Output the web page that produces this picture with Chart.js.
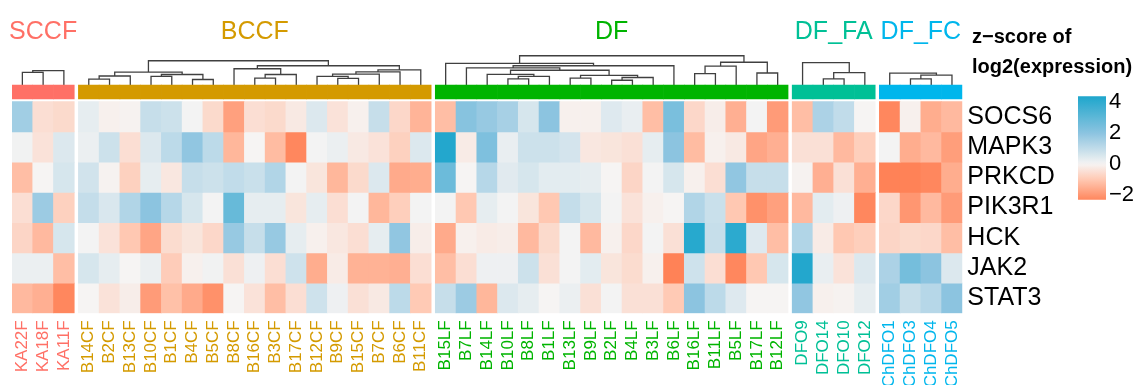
<!DOCTYPE html>
<html>
<head>
<meta charset="utf-8">
<script src="https://cdn.jsdelivr.net/npm/chart.js@4/dist/chart.umd.min.js"></script>
<style>
  body { margin: 0; background: #fff; }
  #wrap { position: relative; width: 1143px; height: 385px; }
  #heat { position: absolute; left: 0; top: 0; }
  #scale { position: absolute; left: 1040px; top: 80px; }
  #legTitle { position: absolute; left: 972px; top: 21px; font: bold 20px 'Liberation Sans', Arial, sans-serif; line-height: 30px; color: #000; white-space: nowrap; }
</style>
</head>
<body>
<div id="wrap">
  <canvas id="heat" width="1143" height="385"></canvas>
  <canvas id="scale" width="103" height="140"></canvas>
  <div id="legTitle">z−score of<br>log2(expression)</div>
</div>
<script>
'use strict';

// groups and samples (column order as in the heatmap)
var groups = ['SCCF', 'BCCF', 'DF', 'DF_FA', 'DF_FC'];
var groupColors = ['#FF7066', '#D49A00', '#00B400', '#00C096', '#00B6EC'];
var sccfCols = ['KA22F', 'KA18F', 'KA11F'];
var bccfCols = ['B14CF', 'B2CF', 'B13CF', 'B10CF', 'B1CF', 'B4CF', 'B5CF', 'B8CF', 'B16CF', 'B3CF', 'B17CF', 'B12CF', 'B9CF', 'B15CF', 'B7CF', 'B6CF', 'B11CF'];
var dfCols = ['B15LF', 'B7LF', 'B14LF', 'B10LF', 'B8LF', 'B1LF', 'B13LF', 'B9LF', 'B2LF', 'B4LF', 'B3LF', 'B6LF', 'B16LF', 'B11LF', 'B5LF', 'B17LF', 'B12LF'];
var dfaCols = ['DFO9', 'DFO14', 'DFO10', 'DFO12'];
var dfcCols = ['ChDFO1', 'ChDFO3', 'ChDFO4', 'ChDFO5'];

var genes = ['SOCS6', 'MAPK3', 'PRKCD', 'PIK3R1', 'HCK', 'JAK2', 'STAT3'];

// z-scores, one array per gene, same column order as above
var socs6 = [1.6, -0.5, -0.6, 0.3, -0.1, -0.05, 0.9, 0.8, 0.05, -0.6, -1.8, -0.5, -0.6, -0.25, 0.5, -0.4, -0.1, 0.9, -0.65, -1.4, -1.2, 2.1, 1.8, 1.5, 0.6, 2.0, -0.1, -0.1, 0.45, 0.25, -1.2, 2.4, -0.65, -0.15, -1.5, 0.05, -1.9, -1.2, 1.4, 1.0, 0, -2.3, -0.1, -1.55, -1.3];
var mapk3 = [0.1, -0.4, 0.5, 0.2, 0.8, -0.5, 0.5, 1.1, 1.9, 1.1, -1.35, 0, -1.25, -2.3, 0.05, 0.2, -0.25, -0.4, -0.8, 0.5, 4.3, -0.2, 2.3, 0.25, 0.8, 0.8, 0.65, -0.3, -0.35, -0.45, 0.3, 2.0, -1.25, -0.1, -0.25, -1.7, -1.5, -0.45, -0.45, -1.3, -0.85, 0.05, -1.55, -1.3, -1.85];
var prkcd = [-1.2, 0, 0.6, 0.7, -0.05, -0.8, 0.3, -0.3, 0.9, 0.8, 1.0, 0.85, 1.3, 0.05, -0.35, -1.35, -0.6, 0.5, -1.6, -1.55, 2.7, 0, 1.2, 0.4, 0.6, 0.35, 0.35, 0.3, 0, -0.7, 0.05, 0.6, -0.1, -0.5, 1.9, 0.9, 0.9, -0.05, -1.5, -0.45, -1.5, -2.4, -2.4, -2.3, -1.55];
var pik3r1 = [-0.5, 1.7, -0.8, 0.95, 0.55, 1.3, 2.0, 1.2, 0.6, 0.05, 2.8, 0.3, 0.3, -0.35, 0.3, -0.5, 0.05, -1.35, -0.85, 0.05, 0.05, -1.0, 0.3, 0.05, -0.35, -1.0, 0.95, 0.6, 0.05, -0.4, -0.1, 0, 1.3, 0.85, -1.0, -2.1, -1.8, -1.3, 0.35, 0.15, -2.3, -0.65, -2.0, -1.3, -1.9];
var hck = [-0.7, -1.3, 0.6, 0.05, -0.4, -1.0, -1.7, -0.55, -0.35, -0.65, 1.8, 0.9, 1.8, 0.3, -0.1, -0.3, -0.5, 0.3, 1.9, -0.15, -1.6, -0.1, -0.2, -0.15, -1.3, -0.6, 0.05, -1.3, -0.1, -0.65, 0.05, -0.45, 4.2, 0.9, 4.1, 0.45, -1.2, 1.3, -0.2, -1.0, -0.85, -0.7, -0.6, -0.65, -1.2];
var jak2 = [0.2, 0.2, -1.2, 0.6, 0.3, 0, 0.2, -0.9, -0.1, 0.1, -0.45, 0.15, -0.5, 0.75, -1.55, -0.2, -1.45, -1.45, -1.5, -0.5, -1.2, -0.5, 0.15, 0.15, 0.8, -0.45, 0.05, 0.35, -0.35, -0.55, -0.1, -2.4, 0.75, -0.5, -2.3, -1.0, 0.6, 4.3, 0.25, -0.4, 0.5, 1.4, 2.5, 2.0, 0.5];
var stat3 = [-1.3, -1.5, -2.3, 0, -0.4, -0.15, -1.9, -1.15, -1.6, -2.1, 0, -0.4, -1.2, -0.5, 0.75, 0.15, -0.45, -0.25, 1.1, -0.95, 0.9, 1.7, -1.35, 0.5, 0.3, 0, 0.2, -0.45, 0.05, -0.45, -0.45, -0.95, 2.0, 1.1, 0.45, 0, 0, 1.9, -0.1, -0.05, 0.3, 1.6, 0.9, 1.2, 2.0];

// column dendrograms, hclust style merges: [a, b, height], negative = earlier merge
var sccfTree = [[0, 1, 4.2], [-1, 2, 4.8]];
var bccfTree = [[0, 1, 2.0], [-1, 2, 3.0], [3, 4, 2.85], [5, 6, 1.85], [-3, -4, 3.5], [-2, -5, 4.3],
                [8, 9, 2.3], [-7, 10, 3.5], [7, -8, 5.4], [12, 13, 2.2], [11, -10, 2.85], [-11, 14, 3.65],
                [-12, 15, 4.4], [-13, 16, 5.05], [-9, -14, 6.4], [-6, -15, 8.05]];
var dfTree = [[3, 4, 2.05], [-1, 5, 2.85], [2, -2, 3.55], [8, 9, 1.6], [-4, 10, 2.5], [6, 7, 2.3],
              [-6, -5, 3.2], [-3, -7, 4.9], [1, -8, 5.7], [-9, 11, 6.4], [0, -10, 7.2], [12, 13, 3.8],
              [-12, 14, 6.3], [15, 16, 4.0], [-13, -14, 7.55], [-11, -15, 9.7]];
var dfaTree = [[1, 2, 2.05], [-1, 3, 4.1], [0, -2, 7.4]];
var dfcTree = [[1, 2, 2.05], [-1, 3, 3.3], [0, -2, 3.95]];

// colour key
var keyValues = [-2.4, -1, 0, 2, 4.4];
var keyColors = ['#FF8257', '#FFC8B2', '#F6F4F3', '#8CC4E0', '#1EA6CC'];
var keyTicks = [-2, 0, 2, 4];
var keyRange = [-2.3, 4.4];

Chart.defaults.font.family = "'Liberation Sans', Arial, sans-serif";
Chart.defaults.color = '#000';

var GAP = 0.2;          // gap between column slices, in cells
var ANNOT = [-0.55, -0.09]; // group colour bar
var DSCALE = 0.1;       // dendrogram height -> y units

var colGroups = [sccfCols, bccfCols, dfCols, dfaCols, dfcCols];
var trees = [sccfTree, bccfTree, dfTree, dfaTree, dfcTree];
var rows = [socs6, mapk3, prkcd, pik3r1, hck, jak2, stat3];

var allCols = [], colX = [], colColor = [], groupX = [], groupLeafX = [];
var off = 0;
colGroups.forEach(function(cols, g) {
    var xs = [];
    cols.forEach(function(c, j) {
        allCols.push(c);
        colX.push(off + j + 0.5);
        xs.push(off + j + 0.5);
        colColor.push(groupColors[g]);
    });
    groupX.push(off + cols.length / 2);
    groupLeafX.push(xs);
    off += cols.length + GAP;
});
var xMax = off - GAP;

function hexRgb(h) {
    return [parseInt(h.substr(1, 2), 16), parseInt(h.substr(3, 2), 16), parseInt(h.substr(5, 2), 16)];
}
function valueColor(v) {
    var i = 0;
    if (v <= keyValues[0]) return keyColors[0];
    if (v >= keyValues[keyValues.length - 1]) return keyColors[keyColors.length - 1];
    while (v > keyValues[i + 1]) i++;
    var t = (v - keyValues[i]) / (keyValues[i + 1] - keyValues[i]);
    var a = hexRgb(keyColors[i]), b = hexRgb(keyColors[i + 1]);
    return 'rgb(' + a.map(function(c, k) { return Math.round(c + (b[k] - c) * t); }).join(',') + ')';
}

// dendrogram -> polyline points with null breaks
function dendroPoints(merges, leafX) {
    var nodes = [], out = [];
    var base = ANNOT[0];
    function node(i) { return i >= 0 ? {x: leafX[i], h: 0} : nodes[-i - 1]; }
    merges.forEach(function(m) {
        var a = node(m[0]), b = node(m[1]), h = m[2];
        out.push({x: a.x, y: base - a.h * DSCALE}, {x: a.x, y: base - h * DSCALE},
                 {x: b.x, y: base - h * DSCALE}, {x: b.x, y: base - b.h * DSCALE}, {x: b.x, y: null});
        nodes.push({x: (a.x + b.x) / 2, h: h});
    });
    return out;
}

var datasets = [];
rows.forEach(function(vals, r) {
    datasets.push({
        type: 'bar',
        label: genes[r],
        grouped: false,
        data: vals.map(function(v, j) { return {x: colX[j], y: [r, r + 1]}; }),
        backgroundColor: vals.map(valueColor),
        borderWidth: 0,
        barPercentage: 1,
        categoryPercentage: 1
    });
});
datasets.push({
    type: 'bar',
    label: 'group',
    grouped: false,
    data: colX.map(function(x) { return {x: x, y: ANNOT}; }),
    backgroundColor: colColor,
    borderWidth: 0,
    barPercentage: 1,
    categoryPercentage: 1
});
trees.forEach(function(t, g) {
    datasets.push({
        type: 'line',
        label: groups[g] + ' tree',
        data: dendroPoints(t, groupLeafX[g]),
        borderColor: '#404040',
        borderWidth: 1.3,
        pointRadius: 0,
        spanGaps: false,
        fill: false,
        tension: 0
    });
});

var yMin = -1.545;
var rowCenters = genes.map(function(g, i) { return i + 0.5; });

new Chart(document.getElementById('heat'), {
    type: 'bar',
    data: { datasets: datasets },
    options: {
        responsive: false,
        animation: false,
        layout: { padding: { left: 12, right: 0, top: 0, bottom: 0 } },
        plugins: { legend: { display: false }, tooltip: { enabled: false } },
        scales: {
            x: {
                type: 'linear', min: 0, max: xMax, offset: false,
                grid: { display: false, drawTicks: false }, border: { display: false },
                afterBuildTicks: function(s) { s.ticks = colX.map(function(v) { return {value: v}; }); },
                afterFit: function(s) { s.height = 71.7; },
                ticks: {
                    autoSkip: false, minRotation: 90, maxRotation: 90, padding: 7,
                    font: { size: 17 },
                    color: function(c) { return colColor[c.index]; },
                    callback: function(v, i) { return allCols[i]; }
                }
            },
            xt: {
                type: 'linear', position: 'top', min: 0, max: xMax, offset: false,
                grid: { display: false, drawTicks: false }, border: { display: false },
                afterBuildTicks: function(s) { s.ticks = groupX.map(function(v) { return {value: v}; }); },
                afterFit: function(s) { s.height = 55; },
                ticks: {
                    autoSkip: false, maxRotation: 0, padding: 8,
                    font: { size: 25 },
                    color: function(c) { return groupColors[c.index]; },
                    callback: function(v, i) { return groups[i]; }
                }
            },
            y: { type: 'linear', reverse: true, min: yMin, max: 7, display: false },
            yr: {
                type: 'linear', position: 'right', reverse: true, min: yMin, max: 7,
                grid: { display: false, drawTicks: false }, border: { display: false },
                afterBuildTicks: function(s) { s.ticks = rowCenters.map(function(v) { return {value: v}; }); },
                afterFit: function(s) { s.width = 1143 - 12 - xMax * 20.75; },
                ticks: {
                    padding: 5, font: { size: 25 }, color: '#000',
                    callback: function(v, i) { return genes[i]; }
                }
            }
        }
    }
});

// colour key
new Chart(document.getElementById('scale'), {
    type: 'bar',
    data: {
        labels: [''],
        datasets: [{
            data: [keyRange],
            borderWidth: 0,
            barPercentage: 1,
            categoryPercentage: 1,
            backgroundColor: function(ctx) {
                var chart = ctx.chart;
                if (!chart.chartArea) return null;
                var ys = chart.scales.y;
                var g = chart.ctx.createLinearGradient(0, ys.getPixelForValue(keyRange[0]), 0, ys.getPixelForValue(keyRange[1]));
                for (var i = 0; i <= 30; i++) {
                    g.addColorStop(i / 30, valueColor(keyRange[0] + (keyRange[1] - keyRange[0]) * i / 30));
                }
                return g;
            }
        }]
    },
    options: {
        responsive: false,
        animation: false,
        layout: { padding: { left: 38, top: 13.7, bottom: 20.3, right: 0 } },
        plugins: { legend: { display: false }, tooltip: { enabled: false } },
        scales: {
            x: { display: false },
            y: {
                position: 'right', min: keyRange[0], max: keyRange[1], z: 1,
                grid: { color: '#FFFFFF', lineWidth: 1.5, drawTicks: false },
                border: { display: false, dash: [5, 18] },
                afterBuildTicks: function(s) { s.ticks = keyTicks.map(function(v) { return {value: v}; }); },
                afterFit: function(s) { s.width = 37; },
                ticks: {
                    padding: 3, font: { size: 22 }, color: '#000',
                    callback: function(v) { return v < 0 ? '\u2212' + Math.abs(v) : String(v); }
                }
            }
        }
    }
});
</script>
</body>
</html>
